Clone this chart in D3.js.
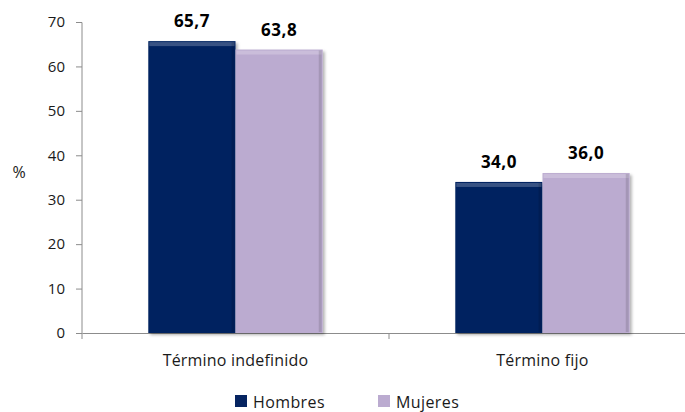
<!DOCTYPE html>
<html><head><meta charset="utf-8">
<script src="https://cdn.jsdelivr.net/npm/d3@7"></script>
<style>body{margin:0;background:#fff}svg{display:block}text{font-family:"Open Sans","Noto Sans",sans-serif}</style>
</head><body>
<script>
const categories = ["Término indefinido", "Término fijo"];
const seriesNames = ["Hombres", "Mujeres"];
const hombres = [65.7, 34.0];
const mujeres = [63.8, 36.0];
const yTicks = [0, 10, 20, 30, 40, 50, 60, 70];
const colors = ["#062461", "#BBABD0"];

const W = 685, H = 412;
const svg = d3.select("body").append("svg").attr("width", W).attr("height", H);
const defs = svg.append("defs");
const f = defs.append("filter").attr("id","sh").attr("x","-10%").attr("y","-10%").attr("width","130%").attr("height","130%");
f.append("feDropShadow").attr("dx",2).attr("dy",2).attr("stdDeviation",1.5).attr("flood-color","#000").attr("flood-opacity",0.3);

const x0 = d3.scaleBand().domain(categories).range([82, 696]).paddingInner(0).paddingOuter(0);
const x1 = d3.scaleBand().domain(seriesNames).range([0, x0.bandwidth()]).paddingInner(0).paddingOuter(0.76);
const y = d3.scaleLinear().domain([0, 70]).range([333, 22]);

const yAxis = svg.append("g").attr("transform","translate(82,0)")
  .call(d3.axisLeft(y).tickValues(yTicks).tickSize(6).tickPadding(11).tickFormat(d3.format("d")));
yAxis.select(".domain").attr("stroke","#8c8c8c").attr("d","M-6,22.5H0V333.5");
yAxis.selectAll(".tick line").attr("stroke","#8c8c8c");
yAxis.selectAll(".tick text").attr("font-size",15).attr("fill","#1a1a1a");

const xAxis = svg.append("g").attr("transform","translate(0,333)")
  .call(d3.axisBottom(x0).tickSize(0).tickPadding(22));
xAxis.select(".domain").attr("stroke","#8c8c8c");
xAxis.selectAll(".tick text").attr("font-size",16).attr("fill","#1a1a1a").attr("letter-spacing",0.2);
svg.append("g").selectAll("line").data([x0.range()[0], x0(categories[1])]).join("line")
  .attr("x1",d=>d).attr("x2",d=>d).attr("y1",333).attr("y2",339).attr("stroke","#8c8c8c");

svg.append("text").attr("x",19).attr("y",178).attr("text-anchor","middle").attr("font-size",16).attr("fill","#1a1a1a").text("%");

const data = categories.map((c,i)=>({cat:c, vals:[{s:seriesNames[0],v:hombres[i],c:colors[0]},{s:seriesNames[1],v:mujeres[i],c:colors[1]}]}));
const g = svg.append("g").selectAll("g").data(data).join("g").attr("transform",d=>`translate(${x0(d.cat)},0)`);
const bars = g.selectAll("g").data(d=>d.vals).join("g");
bars.append("rect").attr("x",d=>x1(d.s)).attr("y",d=>y(d.v)).attr("width",x1.bandwidth()).attr("height",d=>y(0)-y(d.v))
  .attr("fill",d=>d.c).attr("filter","url(#sh)");
bars.append("rect").attr("x",d=>x1(d.s)+1).attr("y",d=>y(d.v)+1).attr("width",x1.bandwidth()-2).attr("height",4)
  .attr("fill","#fff").attr("opacity",0.22);
bars.append("rect").attr("x",d=>x1(d.s)+x1.bandwidth()-4).attr("y",d=>y(d.v)+1).attr("width",3).attr("height",d=>y(0)-y(d.v)-2)
  .attr("fill","#000").attr("opacity",0.12);
bars.append("text").attr("x",d=>x1(d.s)+x1.bandwidth()/2).attr("y",d=>y(d.v)-14).attr("text-anchor","middle")
  .attr("font-size",17).attr("font-weight","bold").attr("fill","#000").attr("letter-spacing",0.5).text(d=>d3.format(".1f")(d.v).replace(".",","));

const leg = svg.append("g").selectAll("g").data(seriesNames).join("g")
  .attr("transform",(d,i)=>`translate(${[235,378][i]},395)`);
leg.append("rect").attr("width",12).attr("height",12).attr("fill",(d,i)=>colors[i]);
leg.append("text").attr("x",18).attr("y",13).attr("font-size",16).attr("fill","#1a1a1a").attr("letter-spacing",0.4).text(d=>d);
</script>
</body></html>
